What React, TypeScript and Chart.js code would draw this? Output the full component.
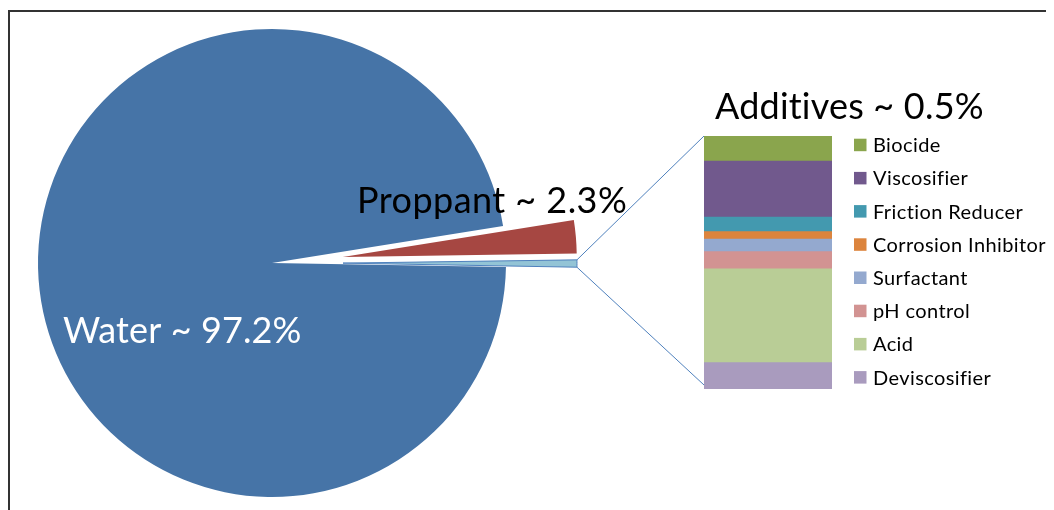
import React, { useEffect, useRef } from "react";
import { Chart, registerables } from "chart.js";

Chart.register(...registerables);

// ---------- data ----------
const PIE_LABELS = ["Water", "Proppant", "Additives"];
const PIE_VALUES = [97.2, 2.3, 0.5];
const PIE_TEXTS = ["Water ~ 97.2%", "Proppant ~ 2.3%", "Additives ~ 0.5%"];

const ADDITIVE_CATEGORY = ["Additives"];
const ADDITIVE_LABELS = [
  "Deviscosifier",
  "Acid",
  "pH control",
  "Surfactant",
  "Corrosion Inhibitor",
  "Friction Reducer",
  "Viscosifier",
  "Biocide",
];
const ADDITIVE_VALUES = [10.4, 37.1, 6.8, 5.0, 2.9, 5.8, 22.1, 9.9];

// ---------- styles ----------
const PIE_COLORS = ["#4674A7", "#A64742", "#93C4D6"];
const PIE_BORDER_COLORS = ["#FFFFFF", "#FFFFFF", "#4F81BD"];
const PIE_BORDER_WIDTHS = [0, 0, 1];
const PIE_EXPLODE = [0, 71, 71];
const ADDITIVE_COLORS = [
  "#A99BBE",
  "#B9CD96",
  "#D29392",
  "#94A9CF",
  "#DC843D",
  "#4399AF",
  "#71598D",
  "#8AA54D",
];
const FONT = "Lato, 'Noto Sans', sans-serif";
const W = 1046;
const H = 502;

function setSpacing(ctx: any, v: string) {
  if ("letterSpacing" in ctx) ctx.letterSpacing = v;
}

export default function App() {
  const pieRef = useRef<HTMLCanvasElement | null>(null);
  const barRef = useRef<HTMLCanvasElement | null>(null);

  useEffect(() => {
    if (!pieRef.current || !barRef.current) return;

    const explodePlugin = {
      id: "explodeSlices",
      afterDatasetsUpdate(chart: any) {
        const meta = chart.getDatasetMeta(0);
        meta.data.forEach((el: any, i: number) => {
          const e = PIE_EXPLODE[i] || 0;
          if (!e) return;
          const mid = (el.startAngle + el.endAngle) / 2;
          el.x += Math.cos(mid) * e;
          el.y += Math.sin(mid) * e;
        });
      },
      afterDraw(chart: any) {
        const ctx = chart.ctx;
        const water = chart.getDatasetMeta(0).data[0];
        const cx = water.x;
        const cy = water.y;
        ctx.save();
        ctx.font = `36px ${FONT}`;
        ctx.textBaseline = "alphabetic";
        ctx.textAlign = "left";
        setSpacing(ctx, "0.1px");
        ctx.fillStyle = "#FFFFFF";
        ctx.fillText(PIE_TEXTS[0], cx - 209, cy + 80);
        setSpacing(ctx, "0.45px");
        ctx.fillStyle = "#000000";
        ctx.fillText(PIE_TEXTS[1], cx + 85, cy - 50);
        ctx.restore();
      },
    };

    const pie = new Chart(pieRef.current, {
      type: "pie",
      data: {
        labels: PIE_LABELS,
        datasets: [
          {
            data: PIE_VALUES,
            backgroundColor: PIE_COLORS,
            borderColor: PIE_BORDER_COLORS,
            borderWidth: PIE_BORDER_WIDTHS,
          },
        ],
      },
      options: {
        responsive: false,
        animation: false,
        rotation: 91,
        radius: 234,
        layout: { padding: { left: 0, right: W - 528, top: 8, bottom: 0 } },
        plugins: {
          legend: { display: false },
          tooltip: { enabled: false },
          title: { display: false },
        },
        events: [],
      } as any,
      plugins: [explodePlugin],
    });

    const barDecor = {
      id: "barDecor",
      afterDraw(chart: any) {
        const ctx = chart.ctx;
        const area = chart.chartArea;
        ctx.save();
        // connector lines from the additives slice to the stacked bar
        const arc: any = pie.getDatasetMeta(0).data[2];
        const top: any = chart.getDatasetMeta(ADDITIVE_VALUES.length - 1).data[0];
        const bottom: any = chart.getDatasetMeta(0).data[0];
        const r = arc.outerRadius;
        const p1 = [arc.x + Math.cos(arc.startAngle) * r, arc.y + Math.sin(arc.startAngle) * r];
        const p2 = [arc.x + Math.cos(arc.endAngle) * r, arc.y + Math.sin(arc.endAngle) * r];
        const barLeft = top.x - top.width / 2;
        ctx.strokeStyle = "#4F81BD";
        ctx.lineWidth = 1;
        ctx.beginPath();
        ctx.moveTo(p1[0], p1[1]);
        ctx.lineTo(barLeft, top.y);
        ctx.moveTo(p2[0], p2[1]);
        ctx.lineTo(barLeft, bottom.base - 4);
        ctx.stroke();

        // title
        ctx.font = `36px ${FONT}`;
        setSpacing(ctx, "0.2px");
        ctx.fillStyle = "#000000";
        ctx.textAlign = "left";
        ctx.textBaseline = "alphabetic";
        ctx.fillText(PIE_TEXTS[2], area.left + 11, area.top - 17);

        // legend (reverse order, matching the stack from top)
        ctx.font = `20px ${FONT}`;
        setSpacing(ctx, "0.4px");
        ctx.textBaseline = "middle";
        const n = chart.data.datasets.length;
        for (let k = 0; k < n; k++) {
          const ds = chart.data.datasets[n - 1 - k];
          const yc = area.top + 8.7 + k * 33.2;
          const x0 = area.right + 22;
          ctx.fillStyle = ds.backgroundColor;
          ctx.fillRect(x0, yc - 6, 12.5, 12.5);
          ctx.fillStyle = "#000000";
          ctx.fillText(ds.label, x0 + 19, yc + 1);
        }
        ctx.restore();
      },
    };

    const bar = new Chart(barRef.current, {
      type: "bar",
      data: {
        labels: ADDITIVE_CATEGORY,
        datasets: ADDITIVE_LABELS.map((label, i) => ({
          label,
          data: [ADDITIVE_VALUES[i]],
          backgroundColor: ADDITIVE_COLORS[i],
          borderWidth: 0,
          barPercentage: 1,
          categoryPercentage: 1,
        })),
      },
      options: {
        responsive: false,
        animation: false,
        layout: { padding: { left: 696, right: W - 824, top: 128, bottom: H - 381 } },
        scales: {
          x: { stacked: true, display: false },
          y: { stacked: true, display: false, min: 0, max: 100 },
        },
        plugins: {
          legend: { display: false },
          tooltip: { enabled: false },
          title: { display: false },
        },
        events: [],
      } as any,
      plugins: [barDecor],
    });

    return () => {
      bar.destroy();
      pie.destroy();
    };
  }, []);

  const canvasStyle: React.CSSProperties = {
    position: "absolute",
    left: 0,
    top: 0,
    width: W,
    height: H,
  };

  return (
    <div style={{ position: "relative", width: W, height: H, overflow: "hidden", background: "#fff" }}>
      <div
        style={{
          position: "absolute",
          left: 0,
          top: 2,
          width: 2000,
          height: 2000,
          borderLeft: "2px solid #333333",
          borderTop: "2px solid #333333",
          boxSizing: "border-box",
        }}
      />
      <canvas ref={pieRef} width={W} height={H} style={canvasStyle} />
      <canvas ref={barRef} width={W} height={H} style={canvasStyle} />
    </div>
  );
}
